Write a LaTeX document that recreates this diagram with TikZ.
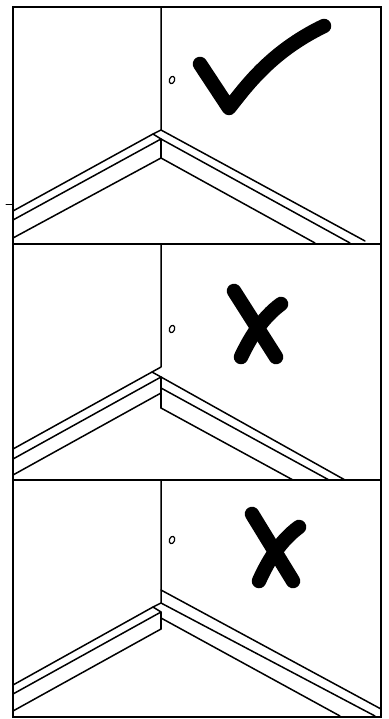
\documentclass[tikz,border=0pt]{standalone}
\tikzset{
  frameline/.style={line width=2pt,black},
  edgeline/.style={line width=1.5pt,black,line cap=round,line join=round},
  markstroke/.style={line width=14.5pt,black,line cap=round,line join=round},
  socket/.style={line width=1.2pt,black}
}
\begin{document}
\begin{tikzpicture}[x=1pt,y=-1pt]
\useasboundingbox (0,0) rectangle (388,719);
\fill[white] (0,0) rectangle (388,719);
% frames
\draw[frameline] (13,7) rectangle (381,717);
\draw[frameline] (13,244) -- (381,244);
\draw[frameline] (13,480) -- (381,480);
\draw[edgeline,line width=1pt] (6,205) -- (13,205);
% panel 1
\draw[edgeline] (161,8) -- (161,130) -- (153,134) -- (13,211);
\draw[edgeline] (153,134) -- (161,139) -- (13,220);
\draw[edgeline] (13,238) -- (161,158);
\draw[edgeline,line width=2pt] (161,139) -- (161,158);
\draw[edgeline] (161,130) -- (365,241);
\draw[edgeline] (161,139) -- (350,243);
\draw[edgeline] (161,158) -- (315,243);
\draw[socket,rotate around={-20:(172,80)}] (172,80) ellipse (2.6 and 3.8);
\draw[markstroke] (200,64) -- (229,108) .. controls (245,88) and (270,52) .. (324,26);
% panel 2
\draw[edgeline] (161,245) -- (161,367) -- (152,372) -- (13,449);
\draw[edgeline] (152,372) -- (161,377) -- (13,459);
\draw[edgeline] (13,475) -- (161,393);
\draw[edgeline] (161,377) -- (161,408);
\draw[edgeline] (161,377) -- (345,480);
\draw[edgeline] (161,388) -- (329,480);
\draw[edgeline] (161,408) -- (293,480);
\draw[socket,rotate around={-20:(172,329)}] (172,329) ellipse (2.6 and 3.8);
\draw[markstroke] (234,291) -- (276,357);
\draw[markstroke] (281,304) .. controls (262,318) and (250,338) .. (241,357);
% panel 3
\draw[edgeline] (161,481) -- (161,603) -- (153,607) -- (13,685);
\draw[edgeline] (153,607) -- (161,612) -- (13,694);
\draw[edgeline] (13,711) -- (161,629);
\draw[edgeline] (161,612) -- (161,629);
\draw[edgeline] (161,590) -- (381,709);
\draw[edgeline] (161,603) -- (375,716);
\draw[edgeline] (161,618) -- (340,716);
\draw[socket,rotate around={-20:(172,540)}] (172,540) ellipse (2.6 and 3.8);
\draw[markstroke] (252,514) -- (293,581);
\draw[markstroke] (299,527) .. controls (280,541) and (268,561) .. (259,581);
\end{tikzpicture}
\end{document}
